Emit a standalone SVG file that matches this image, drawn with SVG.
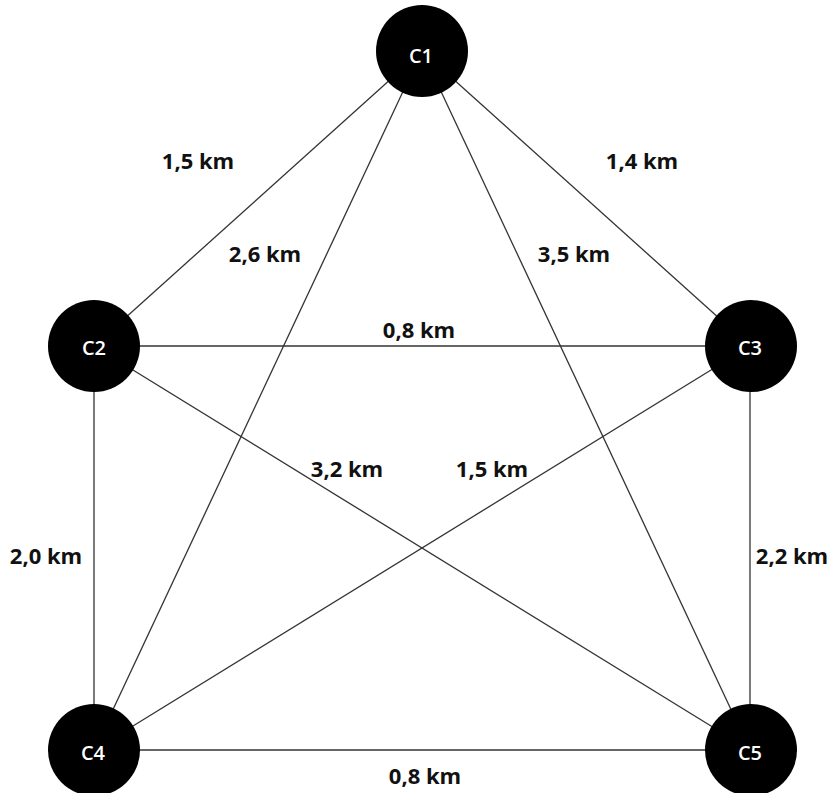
<svg xmlns="http://www.w3.org/2000/svg" width="832" height="793" viewBox="0 0 832 793">
  <style>
    .edge { stroke: #333333; stroke-width: 1.3; fill: none; }
    .node circle { fill: #000000; }
    .node text { fill: #ffffff; font-family: "Open Sans", "Liberation Sans", sans-serif; font-size: 20px; font-weight: 600; text-anchor: middle; dominant-baseline: central; }
    .dist { fill: #111111; font-family: "Open Sans", "Liberation Sans", sans-serif; font-size: 22px; font-weight: 700; text-anchor: middle; dominant-baseline: central; }
  </style>
  <rect width="832" height="793" fill="#ffffff"/>

  <!-- connections between the five points -->
  <g id="connectors">
    <line class="edge" x1="422" y1="51" x2="94" y2="346"/>
    <line class="edge" x1="422" y1="51" x2="750" y2="346"/>
    <line class="edge" x1="422" y1="51" x2="94" y2="750"/>
    <line class="edge" x1="422" y1="51" x2="750" y2="750"/>
    <line class="edge" x1="94" y1="346" x2="750" y2="346"/>
    <line class="edge" x1="94" y1="346" x2="94" y2="750"/>
    <line class="edge" x1="94" y1="346" x2="750" y2="750"/>
    <line class="edge" x1="750" y1="346" x2="94" y2="750"/>
    <line class="edge" x1="750" y1="346" x2="750" y2="750"/>
    <line class="edge" x1="94" y1="750" x2="750" y2="750"/>
  </g>

  <!-- distance labels -->
  <g id="labels">
    <text class="dist" x="198" y="160">1,5 km</text>
    <text class="dist" x="642" y="160">1,4 km</text>
    <text class="dist" x="265" y="253">2,6 km</text>
    <text class="dist" x="574" y="253">3,5 km</text>
    <text class="dist" x="419" y="329">0,8 km</text>
    <text class="dist" x="347" y="468">3,2 km</text>
    <text class="dist" x="492" y="468">1,5 km</text>
    <text class="dist" x="46" y="555">2,0 km</text>
    <text class="dist" x="792" y="555">2,2 km</text>
    <text class="dist" x="425" y="775">0,8 km</text>
  </g>

  <!-- points -->
  <g id="C1" class="node"><circle cx="422" cy="51" r="46"/><text x="421" y="55">C1</text></g>
  <g id="C2" class="node"><circle cx="94" cy="346" r="46"/><text x="94" y="347">C2</text></g>
  <g id="C3" class="node"><circle cx="751" cy="346" r="46"/><text x="750" y="347">C3</text></g>
  <g id="C4" class="node"><circle cx="94" cy="750" r="46"/><text x="93" y="752">C4</text></g>
  <g id="C5" class="node"><circle cx="751" cy="750" r="46"/><text x="750" y="752">C5</text></g>
</svg>
